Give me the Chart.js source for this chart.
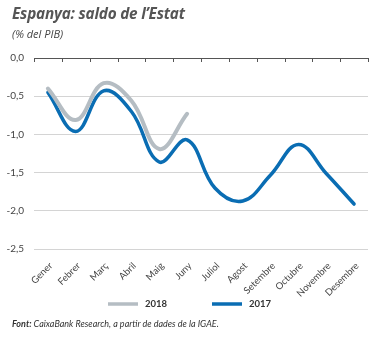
<!DOCTYPE html>
<html>
<head>
<meta charset="utf-8">
<script src="https://cdn.jsdelivr.net/npm/chart.js@4/dist/chart.umd.min.js"></script>
<style>
  body { margin: 0; background: #fff; font-family: Lato, "Open Sans", sans-serif; }
  #wrap { position: relative; width: 376px; height: 338px; overflow: hidden; }
  #title { position: absolute; left: 12px; top: 3px; font-family: "Open Sans"; font-size: 15.3px; font-weight: bold; font-style: italic; color: #555; letter-spacing: -0.2px; }
  #sub { position: absolute; left: 12px; top: 26px; font-family: "Open Sans"; font-size: 11px; font-style: italic; color: #444; }
  #source { position: absolute; left: 12px; top: 318px; font-size: 9px; font-style: italic; color: #333; }
  canvas { position: absolute; left: 0; top: 0; }
</style>
</head>
<body>
<div id="wrap">
  <canvas id="chart" width="376" height="338"></canvas>
  <div id="title">Espanya: saldo de l’Estat</div>
  <div id="sub">(% del PIB)</div>
  <div id="source"><b>Font:</b> CaixaBank Research, a partir de dades de la IGAE.</div>
</div>
<script>
// mesos
const months = ["Gener", "Febrer", "Març", "Abril", "Maig", "Juny", "Juliol", "Agost", "Setembre", "Octubre", "Novembre", "Desembre"];

// saldo (% del PIB)
const saldo2018 = [-0.40, -0.81, -0.33, -0.56, -1.19, -0.73];
const saldo2017 = [-0.45, -0.96, -0.43, -0.70, -1.36, -1.07, -1.70, -1.87, -1.53, -1.13, -1.51, -1.91];

const yTicks = [0, -0.5, -1, -1.5, -2, -2.5];

// línia del zero amb marques a dalt
const topAxis = {
  id: "topAxis",
  afterDraw(chart) {
    const { ctx, chartArea, scales } = chart;
    const y0 = scales.y.getPixelForValue(0);
    ctx.save();
    ctx.strokeStyle = "#555";
    ctx.lineWidth = 1;
    ctx.beginPath();
    ctx.moveTo(chartArea.left, y0 + 0.5);
    ctx.lineTo(chartArea.right, y0 + 0.5);
    const step = (chartArea.right - chartArea.left) / months.length;
    for (let i = 0; i <= months.length; i++) {
      const x = Math.round(chartArea.left + i * step) + 0.5;
      ctx.moveTo(x, y0);
      ctx.lineTo(x, y0 + 4);
    }
    ctx.stroke();
    ctx.restore();
  }
};

// llegenda a sota
const bottomLegend = {
  id: "bottomLegend",
  afterDraw(chart) {
    const { ctx } = chart;
    const starts = [108, 212];
    const y = 304;
    ctx.save();
    ctx.font = "bold 9.5px Lato";
    ctx.textBaseline = "middle";
    chart.data.datasets.forEach((ds, i) => {
      const x = starts[i];
      ctx.strokeStyle = ds.borderColor;
      ctx.lineWidth = 3.5;
      ctx.beginPath();
      ctx.moveTo(x, y);
      ctx.lineTo(x + 30, y);
      ctx.stroke();
      ctx.fillStyle = "#333";
      ctx.fillText(ds.label, x + 37, y);
    });
    ctx.restore();
  }
};

new Chart(document.getElementById("chart"), {
  type: "line",
  data: {
    labels: months,
    datasets: [
      {
        label: "2018",
        data: saldo2018,
        borderColor: "#b5bdc3",
        borderWidth: 4,
        pointRadius: 0,
        tension: 0.4,
        borderCapStyle: "round"
      },
      {
        label: "2017",
        data: saldo2017,
        borderColor: "#0a6db3",
        borderWidth: 3.5,
        pointRadius: 0,
        tension: 0.4,
        borderCapStyle: "round"
      }
    ]
  },
  options: {
    responsive: false,
    animation: false,
    layout: { padding: { top: 58, right: 8, bottom: 36, left: 0 } },
    plugins: {
      legend: { display: false },
      tooltip: { enabled: false }
    },
    scales: {
      x: {
        offset: true,
        grid: { display: false },
        border: { display: false },
        ticks: {
          color: "#444",
          font: { family: "Lato", size: 9.5 },
          minRotation: 45,
          maxRotation: 45,
          padding: 3,
          labelOffset: 3
        }
      },
      y: {
        min: -2.5,
        max: 0,
        afterBuildTicks(scale) {
          scale.ticks = yTicks.map(v => ({ value: v }));
        },
        afterFit(scale) { scale.width = 34; },
        grid: {
          color: (c) => c.tick && c.tick.value === 0 ? "rgba(0,0,0,0)" : "#d4d4d4",
          drawTicks: false
        },
        border: { display: false },
        ticks: {
          color: "#444",
          padding: 10,
          font: { family: "Lato", size: 10 },
          callback: (v) => v.toFixed(1).replace(".", ",")
        }
      }
    }
  },
  plugins: [topAxis, bottomLegend]
});
</script>
</body>
</html>
